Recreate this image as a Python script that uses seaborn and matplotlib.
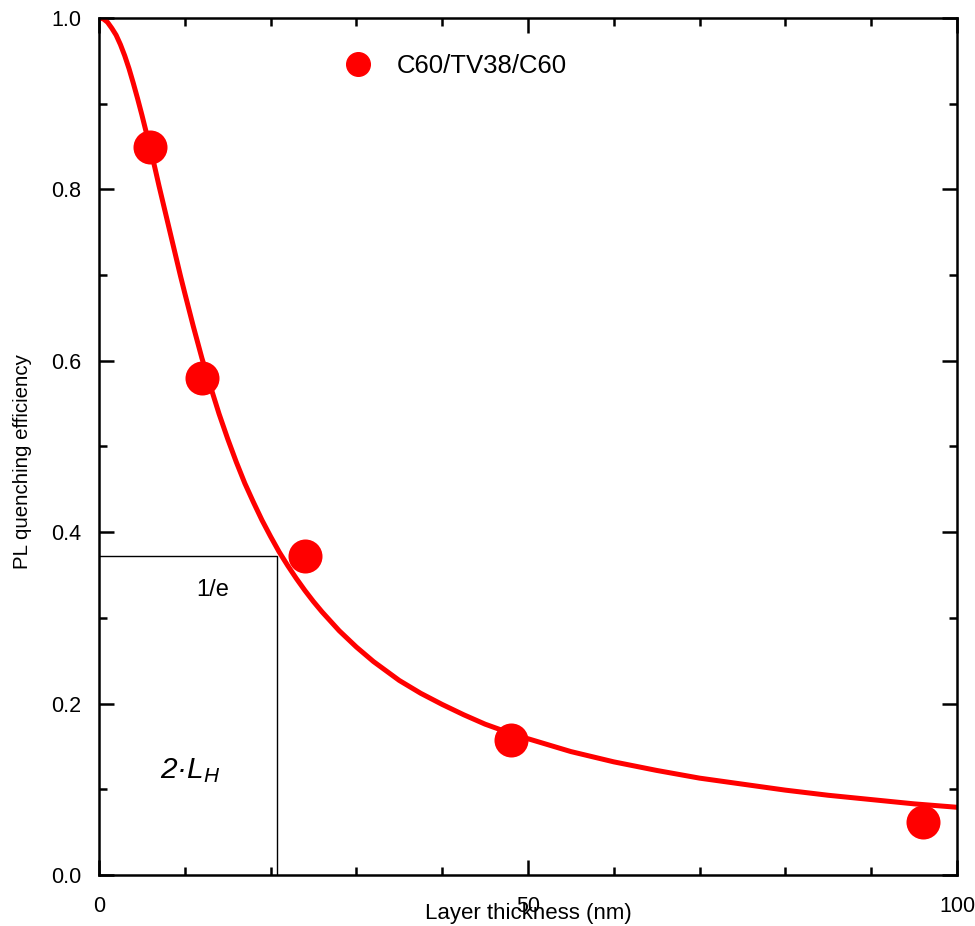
import numpy as np
import pandas as pd
import seaborn as sns
import matplotlib.pyplot as plt
from matplotlib.lines import Line2D
from matplotlib.ticker import MultipleLocator

# measured points
thickness = [6, 12, 24, 48, 96]
quenching = [0.85, 0.58, 0.372, 0.158, 0.062]

# fitted curve
fit_x = [0, 0.5, 1, 1.5, 2, 2.5, 3, 3.5, 4, 4.5, 5, 5.5, 6, 6.5, 7, 7.5, 8, 8.5, 9, 9.5,
         10, 11, 12, 13, 14, 15, 16, 17, 18, 19, 20, 21, 22, 23, 24, 25, 26, 27, 28,
         30, 32, 35, 37.5, 40, 42.5, 45, 47.5, 50, 55, 60, 65, 70, 75, 80, 85, 90, 95, 100]
fit_y = [1.0, 0.999, 0.995, 0.988, 0.98, 0.969, 0.956, 0.941, 0.924, 0.906, 0.887,
         0.867, 0.847, 0.826, 0.804, 0.783, 0.762, 0.741, 0.72, 0.699,
         0.679, 0.64, 0.603, 0.57, 0.538, 0.509, 0.482, 0.457, 0.435, 0.414,
         0.395, 0.377, 0.361, 0.346, 0.332, 0.319, 0.307, 0.296, 0.285,
         0.266, 0.249, 0.227, 0.212, 0.199, 0.187, 0.176, 0.167, 0.159,
         0.144, 0.132, 0.122, 0.113, 0.106, 0.099, 0.093, 0.088, 0.083, 0.079]

one_over_e = 0.372
two_LH = 20.7

series_label = "C60/TV38/C60"

df = pd.DataFrame({"thickness": thickness, "quenching": quenching})
fit = pd.DataFrame({"x": fit_x, "y": fit_y})

sns.set_style("ticks")
plt.rcParams["font.family"] = ["Liberation Sans", "DejaVu Sans"]
plt.rcParams["mathtext.fontset"] = "custom"
plt.rcParams["mathtext.it"] = "Liberation Sans:italic"
plt.rcParams["mathtext.rm"] = "Liberation Sans"
plt.rcParams["text.color"] = "black"
plt.rcParams["axes.labelcolor"] = "black"
plt.rcParams["xtick.color"] = "black"
plt.rcParams["ytick.color"] = "black"

fig = plt.figure(figsize=(9.75, 9.26), dpi=100)
ax = fig.add_axes([0.1015, 0.0551, 0.880, 0.9255])

sns.lineplot(data=fit, x="x", y="y", color="#ff0000", lw=3.6, ax=ax, zorder=2,
             solid_joinstyle="round", solid_capstyle="round")
sns.scatterplot(data=df, x="thickness", y="quenching", color="#ff0000", s=600,
                linewidth=0, ax=ax, zorder=3, legend=False)

# 1/e guide lines
ax.plot([0, two_LH, two_LH], [one_over_e, one_over_e, 0], color="black", lw=1.0, zorder=1)
ax.text(13.3, 0.333, "1/e", fontsize=17, ha="center", va="center")
ax.text(10.6, 0.113, r"2·$L_H$", fontsize=21.5, style="italic", ha="center", va="baseline")

ax.set_xlim(0, 100)
ax.set_ylim(0, 1.0)
ax.xaxis.set_major_locator(MultipleLocator(50))
ax.xaxis.set_minor_locator(MultipleLocator(10))
ax.yaxis.set_major_locator(MultipleLocator(0.2))
ax.yaxis.set_minor_locator(MultipleLocator(0.1))
ax.yaxis.set_major_formatter(lambda v, p: f"{v:.1f}")

ax.tick_params(which="both", direction="in", top=True, right=True, width=1.8,
               colors="black", labelcolor="black")
ax.tick_params(which="major", length=11)
ax.tick_params(which="minor", length=6)
ax.tick_params(axis="x", which="major", labelsize=15.5, pad=15)
ax.tick_params(axis="y", which="major", labelsize=15.5, pad=13)
for s in ax.spines.values():
    s.set_linewidth(1.8)
    s.set_color("black")

ax.set_xlabel("Layer thickness (nm)", fontsize=16)
ax.xaxis.set_label_coords(0.5, -0.0327)
ax.set_ylabel("PL quenching efficiency", fontsize=14.8, va="center")
ax.yaxis.set_label_coords(-0.0886, 0.482)

handle = Line2D([], [], marker="o", color="#ff0000", ls="", markersize=17)
ax.legend([handle], [series_label], loc="center left", bbox_to_anchor=(0.287, 0.944),
          frameon=False, fontsize=18.5, handlelength=1.0, handletextpad=1.0,
          borderpad=0, borderaxespad=0)

plt.savefig("out.png", dpi=100)
